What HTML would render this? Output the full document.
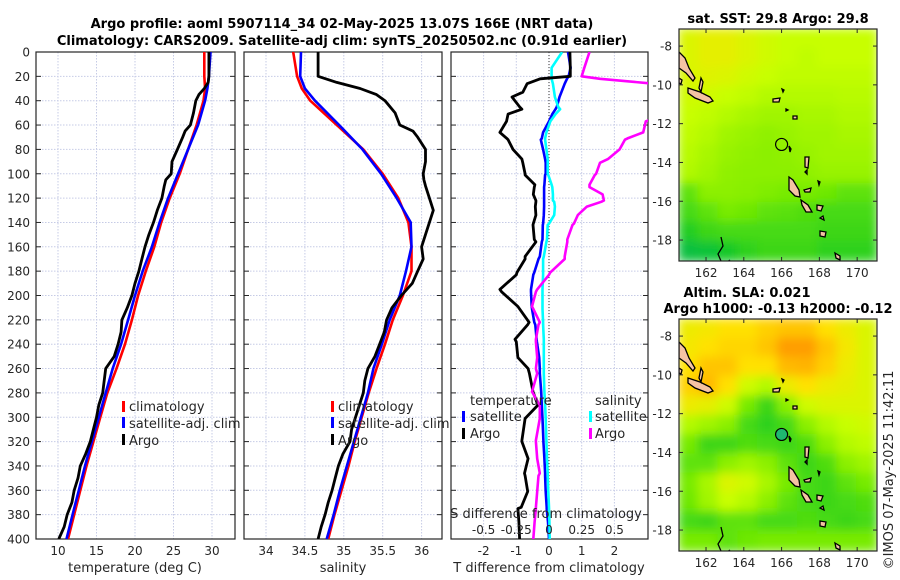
<!DOCTYPE html>
<html><head><meta charset="utf-8"><style>
html,body{margin:0;padding:0;background:#fff;width:900px;height:580px;overflow:hidden}
svg text{font-family:"DejaVu Sans","Liberation Sans",sans-serif;fill:#262626}
</style></head><body>
<svg id="chart" width="900" height="580" viewBox="0 0 900 580" xmlns="http://www.w3.org/2000/svg">
<defs>
<clipPath id="cp1"><rect x="36" y="52" width="199" height="487"/></clipPath>
<clipPath id="cp2"><rect x="244" y="52" width="198" height="487"/></clipPath>
<clipPath id="cp3"><rect x="451" y="52" width="197" height="487"/></clipPath>
<clipPath id="cm1"><rect x="679" y="29" width="198" height="232"/></clipPath>
<clipPath id="cm2"><rect x="679" y="319" width="198" height="232"/></clipPath>
<filter id="blur" x="0" y="0" width="1" height="1"><feGaussianBlur stdDeviation="5"/></filter>
</defs>
<text x="342" y="28" text-anchor="middle" font-size="13" font-weight="bold" style="fill:#000">Argo profile: aoml 5907114_34 02-May-2025 13.07S 166E (NRT data)</text>
<text x="342" y="45" text-anchor="middle" font-size="13" font-weight="bold" style="fill:#000">Climatology: CARS2009. Satellite-adj clim: synTS_20250502.nc (0.91d earlier)</text>
<g id="g"></g>
</svg>
<script>
// ---------- data ----------
const tDepth = [0,20,30,40,60,80,100,120,140,160,180,200,220,240,260,280,300,320,340,360,380,400];
const tClim  = [29.0,29.0,29.1,28.9,28.0,26.9,25.8,24.5,23.4,22.5,21.4,20.4,19.6,18.7,17.6,16.4,15.5,14.6,13.7,12.9,12.1,11.3];
const tSat   = [29.8,29.6,29.4,29.1,28.2,26.9,25.6,24.3,23.2,22.2,21.0,20.0,19.1,18.2,17.1,16.2,15.3,14.4,13.5,12.7,11.9,11.1];
const argoDepth = [0,10,20,25,30,35,40,50,60,65,70,80,90,100,105,110,120,130,140,150,160,170,180,190,200,210,220,230,240,250,260,270,280,290,300,310,320,330,340,350,360,370,380,390,400];
const tArgo = [29.6,29.6,29.6,29.5,29.0,28.3,27.9,27.6,27.2,26.5,26.2,25.5,24.8,24.7,24.0,23.8,23.5,22.9,22.4,21.8,21.3,20.9,20.5,20.0,19.6,19.0,18.3,18.2,17.8,17.3,16.2,16.0,15.8,15.3,15.0,14.6,14.2,13.6,12.9,12.6,12.1,11.8,11.2,10.8,10.1];
const sClim = [34.35,34.40,34.46,34.57,34.91,35.25,35.50,35.70,35.83,35.87,35.87,35.76,35.63,35.53,35.42,35.32,35.23,35.14,35.06,34.97,34.88,34.80];
const sSat  = [34.45,34.44,34.50,34.63,34.94,35.24,35.48,35.68,35.86,35.87,35.80,35.72,35.59,35.49,35.38,35.31,35.22,35.13,35.04,34.95,34.87,34.78];
const sArgo = [34.67,34.67,34.67,34.91,35.21,35.42,35.53,35.66,35.72,35.89,35.95,36.05,36.05,36.02,36.03,36.05,36.10,36.15,36.10,36.05,36.00,36.02,35.95,35.88,35.74,35.62,35.55,35.52,35.46,35.40,35.31,35.27,35.25,35.20,35.15,35.10,35.08,34.99,34.93,34.89,34.85,34.80,34.76,34.71,34.67];
const dDepth = [0,13,20,22,26,33,37,45,47,51,57,66,71,72,80,88,91,100,101,109,111,117,122,123,127,134,141,142,154,156,168,170,181,183,195,197,209,211,222,224,236,238,251,260,264,279,290,301,319,320,334,346,348,361,374,375,386,400];
const dTSat = [0.58,0.66,0.60,0.55,0.48,0.38,0.32,0.24,0.20,0.10,0.00,-0.18,-0.22,-0.25,-0.18,-0.12,-0.10,-0.10,-0.12,-0.14,-0.15,-0.15,-0.15,-0.15,-0.15,-0.16,-0.18,-0.19,-0.20,-0.22,-0.28,-0.32,-0.45,-0.48,-0.55,-0.55,-0.53,-0.52,-0.45,-0.42,-0.38,-0.37,-0.30,-0.28,-0.28,-0.24,-0.22,-0.20,-0.17,-0.17,-0.14,-0.12,-0.12,-0.10,-0.07,-0.07,-0.03,0.00];
const dTArgo = [0.64,0.65,0.65,-0.27,-0.67,-0.80,-1.13,-0.90,-0.83,-1.25,-1.30,-1.50,-1.29,-1.25,-1.10,-0.83,-0.80,-0.73,-0.73,-0.43,-0.45,-0.48,-0.40,-0.40,-0.42,-0.40,-0.48,-0.49,-0.45,-0.40,-0.73,-0.73,-0.98,-1.00,-1.50,-1.45,-0.95,-0.90,-0.61,-0.65,-1.04,-1.00,-0.95,-0.64,-0.60,-0.49,-0.34,-0.73,-0.83,-0.83,-0.64,-0.75,-0.73,-0.65,-0.85,-0.95,-0.92,-0.90];
const dSSat = [0.10,0.02,0.02,0.02,0.03,0.04,0.045,0.07,0.085,0.05,0.01,-0.02,-0.03,-0.03,-0.02,-0.01,-0.01,-0.01,-0.005,0.02,0.025,0.03,0.03,0.04,0.045,0.04,0.00,-0.01,-0.015,-0.02,-0.04,-0.045,-0.045,-0.045,-0.05,-0.05,-0.05,-0.05,-0.045,-0.045,-0.04,-0.04,-0.04,-0.04,-0.04,-0.035,-0.03,-0.025,-0.02,-0.02,-0.015,-0.01,-0.01,-0.005,0.00,0.00,0.003,0.005];
const dSArgo = [0.31,0.27,0.25,0.39,0.80,0.95,0.95,0.95,0.95,0.90,0.74,0.72,0.60,0.58,0.54,0.45,0.39,0.36,0.35,0.31,0.31,0.41,0.42,0.40,0.29,0.22,0.19,0.18,0.14,0.14,0.12,0.12,0.01,0.00,-0.09,-0.10,-0.13,-0.12,-0.07,-0.08,-0.10,-0.10,-0.09,-0.10,-0.09,-0.13,-0.07,-0.07,-0.10,-0.10,-0.09,-0.07,-0.08,-0.09,-0.10,-0.10,-0.11,-0.12];
const depthTicks = [0,20,40,60,80,100,120,140,160,180,200,220,240,260,280,300,320,340,360,380,400];
const tTicks = [10,15,20,25,30];
const sTicks = [34,34.5,35,35.5,36];
const dTTicks = [-2,-1,0,1,2];
const dSTicks = [-0.5,-0.25,0,0.25,0.5];
const lonTicks = [162,164,166,168,170];
const latTicks = [-8,-10,-12,-14,-16,-18];
// SST map (rows lat -7.1 -> -19.1, cols lon 160.6 -> 171)
const sstGrid = [
[0.75,0.78,0.78,0.75,0.72,0.70,0.70,0.70,0.70,0.70],
[0.75,0.78,0.78,0.75,0.72,0.70,0.68,0.70,0.70,0.70],
[0.75,0.76,0.75,0.72,0.70,0.68,0.68,0.68,0.68,0.68],
[0.72,0.72,0.70,0.68,0.65,0.65,0.65,0.65,0.66,0.66],
[0.70,0.68,0.65,0.62,0.60,0.60,0.62,0.62,0.64,0.64],
[0.68,0.65,0.60,0.58,0.56,0.58,0.60,0.60,0.62,0.62],
[0.66,0.62,0.58,0.56,0.55,0.56,0.58,0.60,0.60,0.60],
[0.64,0.60,0.56,0.55,0.55,0.55,0.56,0.58,0.58,0.58],
[0.45,0.55,0.55,0.54,0.52,0.50,0.50,0.48,0.45,0.45],
[0.40,0.45,0.50,0.48,0.45,0.44,0.42,0.40,0.40,0.40],
[0.33,0.38,0.40,0.40,0.40,0.40,0.40,0.38,0.38,0.38],
[0.22,0.25,0.30,0.35,0.38,0.38,0.38,0.35,0.35,0.35]];
const slaGrid = [
[0.80,0.82,0.85,0.85,0.88,0.90,0.90,0.85,0.80,0.75],
[0.82,0.85,0.87,0.87,0.90,0.97,0.97,0.90,0.82,0.75],
[0.85,0.90,0.90,0.85,0.85,0.92,0.93,0.88,0.80,0.75],
[0.88,0.92,0.85,0.72,0.65,0.80,0.85,0.80,0.78,0.75],
[0.80,0.78,0.72,0.50,0.38,0.55,0.72,0.75,0.75,0.75],
[0.65,0.60,0.55,0.40,0.35,0.40,0.55,0.65,0.70,0.72],
[0.50,0.38,0.38,0.42,0.40,0.38,0.42,0.55,0.65,0.68],
[0.45,0.45,0.55,0.60,0.55,0.45,0.38,0.42,0.55,0.60],
[0.50,0.62,0.75,0.72,0.62,0.50,0.40,0.38,0.45,0.50],
[0.48,0.60,0.70,0.65,0.55,0.45,0.40,0.38,0.40,0.42],
[0.40,0.38,0.45,0.45,0.40,0.40,0.42,0.40,0.38,0.40],
[0.50,0.50,0.45,0.48,0.50,0.50,0.50,0.50,0.50,0.50]];
const floatLon = [166.0];
const floatLat = [-13.07];

// ---------- helpers ----------
const NS='http://www.w3.org/2000/svg';
const G=document.getElementById('g');
function mk(tag,attrs,parent){const e=document.createElementNS(NS,tag);for(const k in attrs)e.setAttribute(k,attrs[k]);(parent||G).appendChild(e);return e;}
const Y0=52, Y1=539;
const yD = d => Y0 + d*(Y1-Y0)/400;
const xT = v => 58 + (v-10)*7.7;
const xS = v => 266 + (v-34)*77.8;
const xDT = v => 549 + v*32.7;
const xDS = v => 549 + v*130.8;
const grid='#c6cbe6';

function panel(name,x0,x1,xf,ticks,clip,fmtTicks){
  const g=mk('g',{});
  
  
  depthTicks.forEach(d=>{const l=mk('line',{x1:x0,x2:x1,y1:yD(d),y2:yD(d),stroke:grid,'stroke-width':1,'stroke-dasharray':'1.5,1.5'},g);
    });
  ticks.forEach(t=>{const l=mk('line',{x1:xf(t),x2:xf(t),y1:Y0,y2:Y1,stroke:grid,'stroke-width':1,'stroke-dasharray':'1.5,1.5'},g);
    });
  depthTicks.forEach(d=>{mk('line',{x1:x0,x2:x0+5,y1:yD(d),y2:yD(d),stroke:'#262626'},g);mk('line',{x1:x1-5,x2:x1,y1:yD(d),y2:yD(d),stroke:'#262626'},g);});
  if(fmtTicks) ticks.forEach(t=>{const tx=mk('text',{x:xf(t),y:555,'text-anchor':'middle','font-size':12},g);tx.textContent=String(t);
    });
  const r=mk('rect',{x:x0,y:Y0,width:x1-x0,height:Y1-Y0,fill:'none',stroke:'#262626','stroke-width':1.2},g);
  
  return g;
}
function line(name,xs,ys,xf,color,clip,w){
  const pts=xs.map((v,i)=>xf(v).toFixed(1)+','+yD(ys[i]).toFixed(1)).join(' ');
  const p=mk('polyline',{points:pts,fill:'none',stroke:color,'stroke-width':w||2.6,'stroke-linejoin':'round','clip-path':'url(#'+clip+')'});
  
  
}
function txt(name,s,x,y,opt){const t=mk('text',Object.assign({x:x,y:y,'font-size':12},opt||{}));t.textContent=s;
  
  return t;}
function legBar(name,x,y,color){const r=mk('rect',{x:x,y:y,width:3,height:11,fill:color});
  
  }

// ---------- panel 1 ----------
panel('temperature-panel',36,235,xT,tTicks,'cp1',true);
depthTicks.forEach(d=>{const t=txt('y-tick-label',String(d),30,yD(d)+4.5,{'text-anchor':'end'});});
line('temp-climatology-line',tClim,tDepth,xT,'#ff0000','cp1');
line('temp-satellite-line',tSat,tDepth,xT,'#0000ff','cp1');
line('temp-argo-line',tArgo,argoDepth,xT,'#000000','cp1',2.8);
txt('x-axis-title-temperature','temperature (deg C)',135,572,{'text-anchor':'middle','font-size':13});
legBar('legend-marker-climatology',122,401,'#ff0000');txt('legend-climatology','climatology',129,411,{'font-size':13});
legBar('legend-marker-satellite',122,417,'#0000ff');txt('legend-satellite','satellite-adj. clim',129,428,{'font-size':13});
legBar('legend-marker-argo',122,434,'#000000');txt('legend-argo','Argo',129,445,{'font-size':13});

// ---------- panel 2 ----------
panel('salinity-panel',244,442,xS,sTicks,'cp2',true);
line('sal-climatology-line',sClim,tDepth,xS,'#ff0000','cp2');
line('sal-satellite-line',sSat,tDepth,xS,'#0000ff','cp2');
line('sal-argo-line',sArgo,argoDepth,xS,'#000000','cp2',2.8);
txt('x-axis-title-salinity','salinity',343,572,{'text-anchor':'middle','font-size':13});
legBar('legend-marker-climatology-2',331,401,'#ff0000');txt('legend-climatology-2','climatology',338,411,{'font-size':13});
legBar('legend-marker-satellite-2',331,417,'#0000ff');txt('legend-satellite-2','satellite-adj. clim',338,428,{'font-size':13});
legBar('legend-marker-argo-2',331,434,'#000000');txt('legend-argo-2','Argo',338,445,{'font-size':13});

// ---------- panel 3 ----------
panel('difference-panel',451,648,xDT,dTTicks,'cp3',true);
const z=mk('line',{x1:549,x2:549,y1:Y0,y2:Y1,stroke:'#333','stroke-width':1,'stroke-dasharray':'1,2'});


line('dT-satellite-line',dTSat,dDepth,xDT,'#0000ff','cp3');
line('dS-satellite-line',dSSat,dDepth,xDS,'#00ffff','cp3');
line('dT-argo-line',dTArgo,dDepth,xDT,'#000000','cp3',2.8);
line('dS-argo-line',dSArgo,dDepth,xDS,'#ff00ff','cp3');
txt('legend-title-temperature','temperature',470,405,{'font-size':13});
legBar('legend-marker-t-sat',462,411,'#0000ff');txt('legend-t-satellite','satellite',470,421,{'font-size':13});
legBar('legend-marker-t-argo',462,428,'#000000');txt('legend-t-argo','Argo',470,438,{'font-size':13});
txt('legend-title-salinity','salinity',595,405,{'font-size':13});
legBar('legend-marker-s-sat',589,411,'#00ffff');txt('legend-s-satellite','satellite',595,421,{'font-size':13});
legBar('legend-marker-s-argo',589,428,'#ff00ff');txt('legend-s-argo','Argo',595,438,{'font-size':13});
txt('s-axis-title','S difference from climatology',546,518,{'text-anchor':'middle','font-size':13});
dSTicks.forEach(t=>txt('s-tick-label',String(t),xDS(t),534,{'text-anchor':'middle'}));
txt('x-axis-title-difference','T difference from climatology',549,572,{'text-anchor':'middle','font-size':13});

// ---------- maps ----------
const MX0=679,MX1=877,LON0=160.57,LON1=171.05,LAT0=-7.12,LAT1=-19.08;
const xL = lon => MX0 + (lon-LON0)*(MX1-MX0)/(LON1-LON0);
const stops=[[0,[0,170,130]],[0.3,[20,200,40]],[0.5,[120,235,0]],[0.7,[200,255,0]],[0.85,[255,225,0]],[1,[255,140,0]]];
function cmap(v){for(let i=1;i<stops.length;i++){if(v<=stops[i][0]){const a=stops[i-1],b=stops[i],f=(v-a[0])/(b[0]-a[0]);
  return 'rgb('+a[1].map((c,k)=>Math.round(c+(b[1][k]-c)*f)).join(',')+')';}}return 'rgb(255,140,0)';}
const islands=[
 'M679,52 L685,58 L689,68 L695,78 L693,81 L686,73 L679,68 Z',
 'M679,78 L682,80 L681,84 L679,83 Z',
 'M688,88 L700,92 L710,97 L713,101 L708,103 L695,98 L688,93 Z',
 'M701,78 L703,82 L701,92 L699,88 Z',
 'M773,99 L780,98 L779,102 L773,102 Z','M782,89 L784,90 L783,92 Z','M786,109 L788,110 L786,111 Z','M793,116 L797,116 L797,119 L793,119 Z',
 'M789,177 L793,180 L799,190 L800,197 L795,196 L789,190 Z',
 'M801,200 L808,205 L812,212 L806,212 L802,205 Z',
 'M804,190 L811,188 L810,192 L805,192 Z',
 'M805,157 L809,157 L808,168 L805,167 Z','M805,172 L807,170 L807,174 Z',
 'M817,205 L823,206 L821,211 L817,210 Z','M820,218 L823,216 L824,220 Z','M820,231 L826,232 L825,237 L820,236 Z',
 'M835,253 L840,256 L840,260 L836,258 Z','M818,181 L820,182 L819,185 Z',
 'M789,146 L791,149 L790,152 Z',
 'M721,237 L723,246 L718,254 L721,261 L727,262 L730,260'
];
function map(name,grid,dy,filled,title,clip){
  const g=mk('g',{});
  
  
  const hm=mk('g',{'clip-path':'url(#'+clip+')'},g);
  const hb=mk('g',{filter:'url(#blur)'},hm);
  const nr=grid.length,nc=grid[0].length,cw=(MX1-MX0)/nc,ch=232/nr;
  mk('rect',{x:MX0,y:29+dy,width:198,height:232,fill:cmap(grid[6][5])},hb);
  grid.forEach((row,r)=>row.forEach((v,c)=>{const cell=mk('rect',{x:MX0+c*cw-1,y:29+dy+r*ch-1,width:cw+2,height:ch+2,fill:cmap(v)},hb);
    
    }));
  const ig=mk('g',{transform:'translate(0,'+dy+')'},hm);
  islands.forEach((d,i)=>{const p=mk('path',{d:d,fill:i===islands.length-1?'none':'#f5c3a3',stroke:'#000','stroke-width':1.3},ig);
    });
  const yLat = lat => 29+dy + (lat-LAT0)*232/(LAT1-LAT0);
  floatLon.forEach((lon,i)=>{const c=mk('circle',{cx:xL(lon),cy:yLat(floatLat[i]),r:6,fill:filled?'#1fb870':'none',stroke:'#000','stroke-width':1.2},g);
    });
  latTicks.forEach(l=>{const y=yLat(l);mk('line',{x1:MX0,x2:MX0+4,y1:y,y2:y,stroke:'#262626'},g);mk('line',{x1:MX1-4,x2:MX1,y1:y,y2:y,stroke:'#262626'},g);
    txt('lat-tick-label',String(l),672,y+4.5,{'text-anchor':'end'});});
  lonTicks.forEach(l=>{const x=xL(l);mk('line',{x1:x,x2:x,y1:261+dy-4,y2:261+dy,stroke:'#262626'},g);mk('line',{x1:x,x2:x,y1:29+dy,y2:33+dy,stroke:'#262626'},g);
    txt('lon-tick-label',String(l),x,277+dy,{'text-anchor':'middle'});});
  const fr=mk('rect',{x:MX0,y:29+dy,width:198,height:232,fill:'none',stroke:'#262626','stroke-width':1.2},g);
  
}
map('sst-map',sstGrid,0,false,'','cm1');
map('sla-map',slaGrid,290,true,'','cm2');
txt('sst-map-title','sat. SST: 29.8 Argo: 29.8',778,23,{'text-anchor':'middle','font-size':13,'font-weight':'bold',style:'fill:#000'});
txt('sla-map-title-1','Altim. SLA: 0.021',747,297,{'text-anchor':'middle','font-size':13,'font-weight':'bold',style:'fill:#000'});
txt('sla-map-title-2','Argo h1000: -0.13 h2000: -0.12',778,313,{'text-anchor':'middle','font-size':13,'font-weight':'bold',style:'fill:#000'});
txt('copyright-timestamp','©IMOS 07-May-2025 11:42:11',0,0,{'text-anchor':'middle','font-size':13,transform:'translate(893,470) rotate(-90)'});
</script>
</body></html>
